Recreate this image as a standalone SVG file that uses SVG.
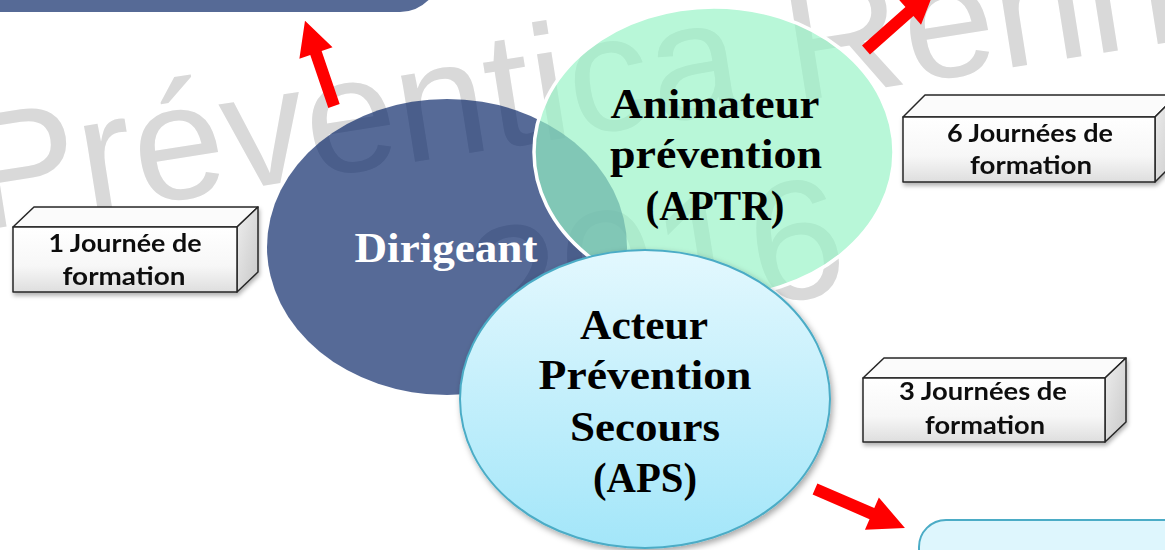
<svg xmlns="http://www.w3.org/2000/svg" width="1165" height="550" viewBox="0 0 1165 550">
  <defs>
    <style>
      .wm { font-family: "Liberation Sans", Arial, sans-serif; fill: #d9d9d9; }
      .ct { font-family: "Liberation Serif", "Times New Roman", serif; font-weight: 700; font-size: 43px; text-anchor: middle; fill: #000; }
      .bt { font-family: Lato, "Liberation Sans", sans-serif; font-weight: 700; font-size: 25px; text-anchor: middle; fill: #111; }
      .edge { stroke: #262626; stroke-width: 1.5; stroke-linejoin: round; }
      .arrow { fill: #ff0000; }
    </style>
    <linearGradient id="apsGrad" x1="0" y1="0" x2="0" y2="1">
      <stop offset="0" stop-color="#e3f8fe"/>
      <stop offset="1" stop-color="#a3e6f9"/>
    </linearGradient>
    <linearGradient id="frontGrad" x1="0" y1="0" x2="0" y2="1">
      <stop offset="0" stop-color="#ffffff"/>
      <stop offset="0.6" stop-color="#f7f7f7"/>
      <stop offset="1" stop-color="#dedede"/>
    </linearGradient>
    <linearGradient id="sideGrad" x1="0" y1="0" x2="1" y2="1">
      <stop offset="0" stop-color="#eeeeee"/>
      <stop offset="1" stop-color="#c8c8c8"/>
    </linearGradient>
    <filter id="shadow" x="-20%" y="-20%" width="140%" height="140%">
      <feDropShadow dx="2" dy="3" stdDeviation="3" flood-color="#000" flood-opacity="0.35"/>
    </filter>
    <filter id="boxShadow" x="-10%" y="-20%" width="120%" height="150%">
      <feDropShadow dx="1" dy="3" stdDeviation="2" flood-color="#000" flood-opacity="0.3"/>
    </filter>
  </defs>

  <rect width="1165" height="550" fill="#ffffff"/>

  <!-- watermark -->
  <g id="watermark">
    <text class="wm" x="-22" y="231" font-size="165" transform="rotate(-9 -22 231)">Préventica Rennes</text>
    <text class="wm" x="478" y="350" font-size="170" transform="rotate(-9 478 350)">2016</text>
  </g>

  <!-- cropped target shapes -->
  <g id="top-left-box">
    <path d="M -10 -100 H 440 V -28 A 40 40 0 0 1 400 12 H -10 Z" fill="#566a96"/>
  </g>
  <g id="bottom-right-box">
    <rect x="919" y="520" width="300" height="100" rx="27" ry="27" fill="#def6fd" stroke="#4bacc6" stroke-width="2"/>
  </g>

  <!-- connectors -->
  <g id="connectors">
    <polygon class="arrow" points="0,-6 56,-6 56,-17.5 90,0 56,17.5 56,6 0,6" transform="translate(334 106) rotate(-108.8)"/>
    <polygon class="arrow" points="0,-6 58,-6 58,-17.5 92,0 58,17.5 58,6 0,6" transform="translate(866 50) rotate(-41.5)"/>
    <polygon class="arrow" points="0,-6 62,-6 62,-17.5 98,0 62,17.5 62,6 0,6" transform="translate(815 489) rotate(23.4)"/>
  </g>

  <!-- Dirigeant -->
  <g id="dirigeant">
    <ellipse cx="447" cy="247" rx="180" ry="148" fill="#062465" fill-opacity="0.68"/>
    <text class="ct" x="446" y="262" style="fill:#ffffff" textLength="183" lengthAdjust="spacingAndGlyphs">Dirigeant</text>
  </g>

  <!-- Animateur prévention -->
  <g id="aptr">
    <ellipse cx="714" cy="152" rx="180" ry="145" fill="#97f3c6" fill-opacity="0.68" stroke="#ffffff" stroke-width="3.5"/>
    <text class="ct" x="715" y="118" textLength="209" lengthAdjust="spacingAndGlyphs">Animateur</text>
    <text class="ct" x="716" y="168" textLength="212" lengthAdjust="spacingAndGlyphs">prévention</text>
    <text class="ct" x="715" y="220" textLength="139" lengthAdjust="spacingAndGlyphs">(APTR)</text>
  </g>

  <!-- Acteur Prévention Secours -->
  <g id="aps">
    <ellipse cx="645" cy="399" rx="185" ry="149" fill="url(#apsGrad)" stroke="#4bacc6" stroke-width="2" filter="url(#shadow)"/>
    <text class="ct" x="644" y="339" textLength="128" lengthAdjust="spacingAndGlyphs">Acteur</text>
    <text class="ct" x="645" y="389" textLength="213" lengthAdjust="spacingAndGlyphs">Prévention</text>
    <text class="ct" x="645" y="441" textLength="150" lengthAdjust="spacingAndGlyphs">Secours</text>
    <text class="ct" x="645" y="492" textLength="104" lengthAdjust="spacingAndGlyphs">(APS)</text>
  </g>

  <!-- Box 1 -->
  <g id="box-1-journee" filter="url(#boxShadow)">
    <polygon class="edge" points="13,227 34,207 258,207 237,227" fill="#fbfbfb"/>
    <polygon class="edge" points="237,227 258,207 258,272 237,292" fill="url(#sideGrad)"/>
    <rect class="edge" x="13" y="227" width="224" height="65" fill="url(#frontGrad)"/>
    <text class="bt" x="125" y="252" textLength="153" lengthAdjust="spacingAndGlyphs">1 Journée de</text>
    <text class="bt" x="124" y="285" textLength="123" lengthAdjust="spacingAndGlyphs">formation</text>
  </g>

  <!-- Box 6 -->
  <g id="box-6-journees" filter="url(#boxShadow)">
    <polygon class="edge" points="903,117 925,95 1177,95 1155,117" fill="#fbfbfb"/>
    <polygon class="edge" points="1155,117 1177,95 1177,160 1155,182" fill="url(#sideGrad)"/>
    <rect class="edge" x="903" y="117" width="252" height="65" fill="url(#frontGrad)"/>
    <text class="bt" x="1030" y="142" textLength="166" lengthAdjust="spacingAndGlyphs">6 Journées de</text>
    <text class="bt" x="1031" y="174" textLength="122" lengthAdjust="spacingAndGlyphs">formation</text>
  </g>

  <!-- Box 3 -->
  <g id="box-3-journees" filter="url(#boxShadow)">
    <polygon class="edge" points="863,378 884,358 1126,358 1105,378" fill="#fbfbfb"/>
    <polygon class="edge" points="1105,378 1126,358 1126,422 1105,442" fill="url(#sideGrad)"/>
    <rect class="edge" x="863" y="378" width="242" height="64" fill="url(#frontGrad)"/>
    <text class="bt" x="983" y="400" textLength="168" lengthAdjust="spacingAndGlyphs">3 Journées de</text>
    <text class="bt" x="985" y="434" textLength="120" lengthAdjust="spacingAndGlyphs">formation</text>
  </g>
</svg>
